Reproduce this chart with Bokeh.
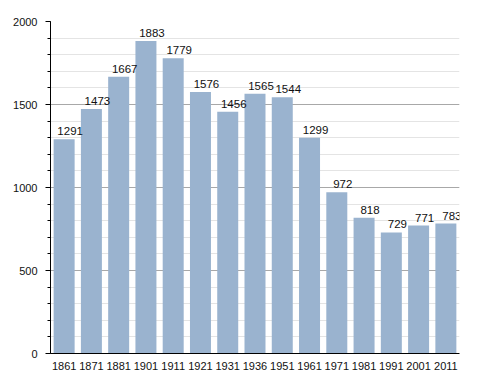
from bokeh.plotting import figure
from bokeh.models import ColumnDataSource, FactorRange, SingleIntervalTicker
from bokeh.embed import file_html
from bokeh.resources import INLINE
from bokeh.core.properties import value

years = ["1861", "1871", "1881", "1901", "1911", "1921", "1931", "1936",
         "1951", "1961", "1971", "1981", "1991", "2001", "2011"]
population = [1291, 1473, 1667, 1883, 1779, 1576, 1456, 1565,
              1544, 1299, 972, 818, 729, 771, 783]
labels = [str(v) for v in population]

src = ColumnDataSource(dict(x=years, top=population, label=labels))

p = figure(x_range=FactorRange(*years, range_padding=0), y_range=(0, 2000),
           frame_width=409, frame_height=332,
           min_border_left=50, min_border_top=21, min_border_bottom=20, min_border_right=29,
           output_backend="svg", toolbar_location=None)
p.outline_line_color = None
p.background_fill_color = "white"

p.vbar(x="x", top="top", width=0.77, source=src, fill_color="#9ab3cf", line_color=None)
p.text(x="x", y="top", text="label", source=src, x_offset=6, y_offset=-4,
       text_align="center", text_baseline="bottom",
       text_font=value("Liberation Sans"), text_font_size="11.5px", text_color="#111111")

p.yaxis.ticker = SingleIntervalTicker(interval=500, num_minor_ticks=5)
p.ygrid.ticker = p.yaxis.ticker
p.ygrid.grid_line_color = "#a8a8a8"
p.ygrid.minor_grid_line_color = "#e4e4e4"
p.xgrid.grid_line_color = None
p.ygrid.level = "underlay"

for ax in (p.xaxis, p.yaxis):
    ax.axis_line_color = "black"
    ax.major_label_text_font = "Liberation Sans"
    ax.major_label_text_font_size = "11px"
    ax.major_label_text_color = "#111111"

p.yaxis.major_tick_line_color = "black"
p.yaxis.major_tick_in = 0
p.yaxis.major_tick_out = 5
p.yaxis.minor_tick_line_color = "black"
p.yaxis.minor_tick_in = 0
p.yaxis.minor_tick_out = 3
p.yaxis.major_label_standoff = 8

p.xaxis.major_tick_line_color = None
p.xaxis.minor_tick_line_color = None
p.xaxis.major_label_standoff = 2

open("out.html", "w").write(file_html(p, INLINE))
